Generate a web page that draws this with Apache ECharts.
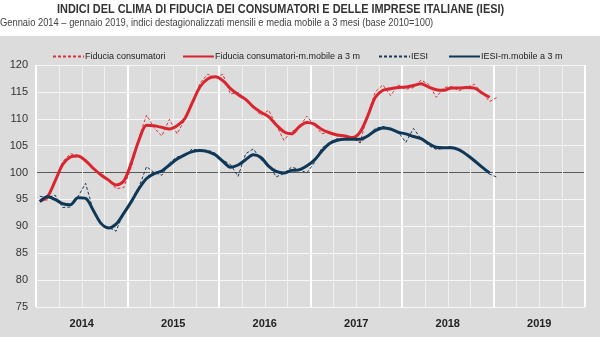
<!DOCTYPE html>
<html>
<head>
<meta charset="utf-8">
<script src="https://cdn.jsdelivr.net/npm/echarts@6/dist/echarts.min.js"></script>
<style>
html,body{margin:0;padding:0;background:#fff;}
#chart{width:600px;height:337px;}
</style>
</head>
<body>
<div id="chart"></div>
<script>
// ---- data ----
const years = ['2014', '2015', '2016', '2017', '2018', '2019'];
const monthNames = ['gen', 'feb', 'mar', 'apr', 'mag', 'giu', 'lug', 'ago', 'set', 'ott', 'nov', 'dic'];
const yTicks = [75, 80, 85, 90, 95, 100, 105, 110, 115, 120];

const consumerMonthly = [
  94.8, 94.9, 98.5, 102.0, 103.5, 103.2, 102.1, 100.6, 99.5, 98.6, 97.0, 97.2,
  101.0, 106.5, 110.7, 108.3, 106.8, 109.9, 107.2, 109.8, 112.8, 116.6, 118.3, 117.6,
  118.3, 114.6, 114.9, 113.6, 112.2, 110.6, 111.6, 108.9, 106.0, 107.6, 108.3, 110.5,
  108.8, 107.2, 107.6, 106.8, 106.7, 106.5, 105.6, 110.8, 115.0, 116.3, 114.3, 116.3,
  115.5, 115.8, 117.2, 116.4, 114.0, 115.8, 116.0, 115.2, 115.9, 116.4, 114.8, 113.2,
  114.0
];
const consumerMA = [
  94.7, 95.5, 98.4, 101.5, 102.9, 103.1, 102.2, 100.8, 99.6, 98.6, 97.7, 98.4,
  101.8, 106.0, 108.8, 108.7, 108.4, 108.1, 108.7, 110.0, 113.0, 115.9, 117.4, 117.8,
  117.1, 115.6, 114.5, 113.6, 112.2, 111.2, 110.4, 108.9, 107.6, 107.2, 108.5, 109.3,
  109.0, 108.0, 107.4, 107.0, 106.8, 106.5, 107.5, 110.5, 114.0, 115.3, 115.6, 115.8,
  115.9, 116.2, 116.5, 115.9, 115.4, 115.3, 115.7, 115.7, 115.8, 115.7, 114.8, 114.0
];
const iesiMonthly = [
  95.6, 95.3, 95.8, 93.5, 93.6, 95.5, 98.0, 93.0, 90.5, 89.8, 89.1, 92.6,
  94.3, 97.3, 101.1, 100.0, 99.5, 101.8, 102.9, 103.2, 104.4, 104.0, 104.2, 103.6,
  102.3, 101.5, 99.3, 103.5, 104.4, 102.4, 101.5, 99.2, 99.8, 101.0, 100.6, 99.9,
  101.8, 104.6, 105.5, 106.3, 106.2, 106.5, 105.5, 106.8, 108.2, 108.6, 108.1, 107.6,
  105.6, 108.2, 106.3, 105.0, 104.3, 104.5, 104.9, 104.2, 103.3, 102.1, 100.9, 99.7,
  99.1
];
const iesiMA = [
  94.6, 95.5, 95.0, 94.2, 94.0, 95.3, 95.2, 93.0, 90.6, 89.7, 90.4, 92.4,
  94.6, 97.0, 98.9, 99.8, 100.3, 101.4, 102.5, 103.3, 103.9, 104.1, 103.9, 103.3,
  102.1, 101.0, 101.4, 102.4, 103.3, 102.8, 101.2, 100.2, 99.9, 100.4, 100.5, 101.2,
  102.3, 104.0, 105.4, 106.0, 106.2, 106.2, 106.2, 106.8, 107.8, 108.3, 108.1, 107.5,
  107.2, 106.7, 106.3, 105.4, 104.7, 104.6, 104.6, 104.2, 103.3, 102.2, 101.0, 99.9
];
const seriesNames = ['Fiducia consumatori', 'Fiducia consumatori-m.mobile a 3 m', 'IESI', 'IESI-m.mobile a 3 m'];
const titleText = 'INDICI DEL CLIMA DI FIDUCIA DEI CONSUMATORI E DELLE IMPRESE ITALIANE (IESI)';
const subtitleText = 'Gennaio 2014 \u2013 gennaio 2019, indici destagionalizzati mensili e media mobile a 3 mesi (base 2010=100)';

// ---- build ----
const months = [];
years.forEach(y => monthNames.forEach(m => months.push(m + ' ' + y)));

const SANS = '"Liberation Sans", Arial, sans-serif';
const RED = '#d8252f';
const NAVY = '#0f3858';

const gridColors = yTicks.map(t => t === 100 ? '#5a5a5a' : '#f7f7f7');

function legendAt(left, name) {
  return {
    left: left, top: 47, data: [name],
    itemWidth: 31, itemHeight: 8, itemGap: 0,
    itemStyle: {opacity: 0},
    textStyle: {fontFamily: SANS, fontSize: 9, color: '#222', padding: [0, 0, 0, -4]}
  };
}

const chart = echarts.init(document.getElementById('chart'), null, {renderer: 'canvas'});
chart.setOption({
  backgroundColor: '#ffffff',
  animation: false,
  graphic: [
    {type: 'rect', z: -100, silent: true,
     shape: {x: 0, y: 36, width: 600, height: 301},
     style: {fill: '#dcdcdc'}},
    {type: 'text', x: 57, y: 3, scaleX: 0.84, silent: true,
     style: {text: titleText, fontFamily: SANS, fontSize: 13, fontWeight: 'bold', fill: '#333', verticalAlign: 'top'}},
    {type: 'text', x: 0, y: 17, scaleX: 0.85, silent: true,
     style: {text: subtitleText, fontFamily: SANS, fontSize: 11, fill: '#444', verticalAlign: 'top'}}
  ],
  legend: [
    legendAt(47, seriesNames[0]),
    legendAt(177, seriesNames[1]),
    legendAt(373, seriesNames[2]),
    legendAt(443, seriesNames[3])
  ],
  grid: {left: 36, right: 15, top: 65, bottom: 30, containLabel: false},
  xAxis: [
    {
      type: 'category', data: months, boundaryGap: true, position: 'bottom',
      axisLine: {show: false}, axisTick: {show: false}, axisLabel: {show: false},
      splitLine: {show: true, interval: (i) => i % 3 === 0, lineStyle: {color: '#f0f0f0', width: 1}}
    },
    {
      type: 'category', data: years, boundaryGap: true, position: 'bottom', offset: 0,
      axisLine: {show: false}, axisTick: {show: false},
      axisLabel: {show: true, margin: 11, fontFamily: SANS, fontWeight: 'bold', fontSize: 11, color: '#222'},
      splitLine: {show: true, lineStyle: {color: '#ffffff', width: 2}}
    }
  ],
  yAxis: {
    type: 'value', min: 75, max: 120, interval: 5,
    axisLine: {show: false}, axisTick: {show: false},
    axisLabel: {margin: 8, fontFamily: SANS, fontSize: 11, color: '#333'},
    splitLine: {show: true, lineStyle: {color: gridColors, width: 1}}
  },
  series: [
    {name: seriesNames[0], type: 'line', xAxisIndex: 0, data: consumerMonthly,
     symbol: 'none', lineStyle: {color: '#d9343d', width: 1, type: [3, 2]}, itemStyle: {color: '#d9343d'}, z: 2},
    {name: seriesNames[2], type: 'line', xAxisIndex: 0, data: iesiMonthly,
     symbol: 'none', lineStyle: {color: '#1d3957', width: 1, type: [3, 2]}, itemStyle: {color: '#1d3957'}, z: 2},
    {name: seriesNames[1], type: 'line', xAxisIndex: 0, data: consumerMA, smooth: 0.3,
     symbol: 'none', lineStyle: {color: RED, width: 3}, itemStyle: {color: RED}, z: 3},
    {name: seriesNames[3], type: 'line', xAxisIndex: 0, data: iesiMA, smooth: 0.3,
     symbol: 'none', lineStyle: {color: NAVY, width: 3}, itemStyle: {color: NAVY}, z: 3}
  ]
});
</script>
</body>
</html>
